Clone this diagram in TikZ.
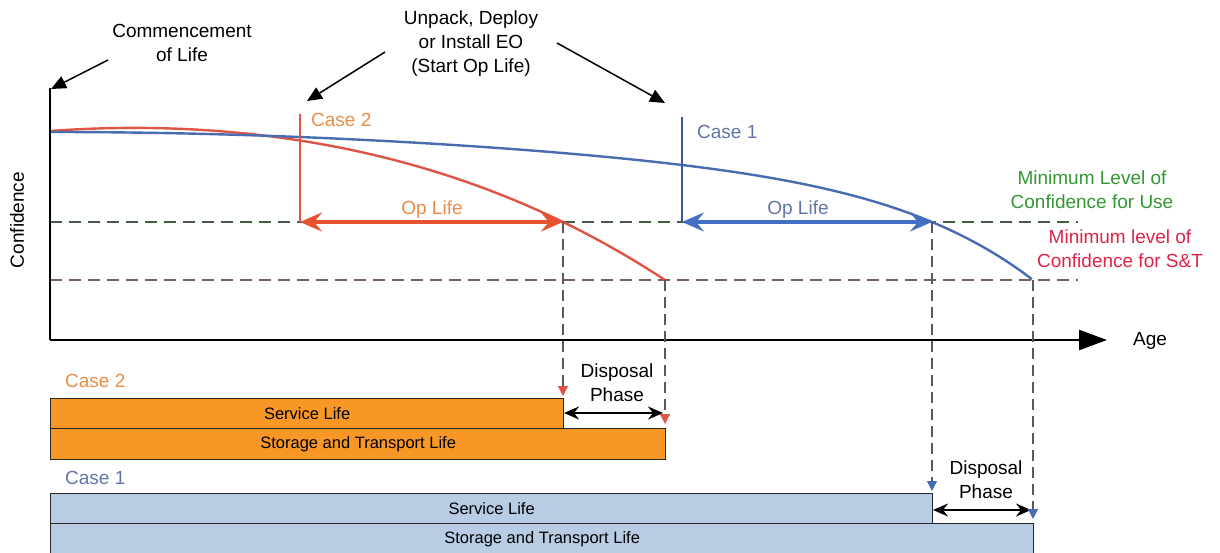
\documentclass[tikz,border=0pt]{standalone}
\usepackage{fontspec}
\setmainfont{Liberation Sans}
\usepackage{tikz}
\usetikzlibrary{arrows.meta,positioning}
\definecolor{casetwocol}{RGB}{235,140,70}
\definecolor{oplifered}{RGB}{232,82,48}
\definecolor{curvered}{RGB}{222,84,70}
\definecolor{barorange}{RGB}{248,150,38}
\definecolor{caseonecol}{RGB}{96,116,166}
\definecolor{oplifeblue}{RGB}{66,112,196}
\definecolor{curveblue}{RGB}{72,108,178}
\definecolor{barblue}{RGB}{184,204,228}
\definecolor{usecol}{RGB}{52,150,52}
\definecolor{stcol}{RGB}{222,36,70}
\definecolor{uselinecol}{RGB}{70,90,70}
\definecolor{stlinecol}{RGB}{120,95,95}
\tikzset{
  lbl/.style={font=\fontsize{19}{24}\selectfont,align=center,inner sep=0pt},
  barlbl/.style={font=\fontsize{16.5}{19}\selectfont},
  pointer/.style={-{Triangle[length=15pt,width=13pt]},line width=1.5pt},
  axis/.style={line width=2.8pt},
  oplife/.style={{Stealth[length=22pt,width=19pt,inset=8pt]}-{Stealth[length=22pt,width=19pt,inset=8pt]},line width=4pt},
  disposal/.style={{Stealth[length=15pt,width=13pt,inset=5pt]}-{Stealth[length=15pt,width=13pt,inset=5pt]},line width=2.4pt},
  minline/.style={line width=1.4pt,dash pattern=on 12pt off 7pt},
  dropline/.style={line width=1.2pt,black!65,dash pattern=on 11pt off 6pt},
  bar/.style={draw=black!85,line width=1.3pt,anchor=north west,inner sep=0pt,barlbl}
}
\begin{document}
\begin{tikzpicture}[x=1pt,y=-1pt]
  \useasboundingbox (0,0) rectangle (1220,553);
  % key points
  \coordinate (origin) at (50,340);
  \coordinate (ytop) at (50,88);
  \coordinate (xend) at (1107,340);
  \coordinate (usetwo) at (563,222);
  \coordinate (useone) at (932,222);
  \coordinate (sttwo) at (665,280);
  \coordinate (stone) at (1033,280);
  \coordinate (starttwo) at (300,222);
  \coordinate (startone) at (682,222);

  % minimum levels
  \draw[minline,uselinecol] (50,222) -- (1078,222);
  \draw[minline,stlinecol] (50,280) -- (1078,280);

  % confidence curves
  \draw[curvered,line width=2.4pt] plot[domain=0:0.615,samples=70]
    ({50+1000*\x},{131-73.5*\x+433.3*\x^2+212*\x^4});
  \draw[curveblue,line width=2.4pt] plot[domain=0:0.983,samples=90]
    ({50+1000*\x},{132+81.25*\x^2-11.2*\x^4+91.7*\x^8});

  % axes
  \draw[axis] (ytop) -- (origin);
  \draw[axis,-{Triangle[length=28pt,width=20pt]}] (origin) -- (xend);
  \node[lbl] (age) at (1150,341) {Age};
  \node[lbl,rotate=90] (conf) at (17,220) {Confidence};

  % start of op life
  \coordinate (casetwotop) at (300,114);
  \coordinate (caseonetop) at (682,117);
  \draw[curvered,line width=2pt] (casetwotop) -- (starttwo);
  \draw[oplifeblue!80!black,line width=2pt] (caseonetop) -- (startone);
  \node[lbl,text=casetwocol,anchor=west] (casetwo) at (311,120) {Case 2};
  \node[lbl,text=caseonecol,anchor=west] (caseone) at (697,132) {Case 1};
  \draw[oplife,oplifered] (starttwo) -- (usetwo);
  \draw[oplife,oplifeblue] (startone) -- (useone);
  \node[lbl,text=casetwocol] (optwo) at (432,210) {Op Life};
  \node[lbl,text=caseonecol] (opone) at (798,210) {Op Life};

  % level labels
  \node[lbl,text=usecol] (uselbl) at (1092,190) {Minimum Level of\\Confidence for Use};
  \node[lbl,text=stcol] (stlbl) at (1120,249) {Minimum level of\\Confidence for S\&T};

  % pointers
  \node[lbl] (commence) at (182,43) {Commencement\\of Life};
  \node[lbl] (unpack) at (471,44) {Unpack, Deploy\\or Install EO\\(Start Op Life)};
  \coordinate (ca) at (108,60);
  \coordinate (cb) at (51,89);
  \coordinate (ua) at (385,52);
  \coordinate (ub) at (307,101);
  \coordinate (uc) at (557,43);
  \coordinate (ud) at (665,103);
  \draw[pointer] (ca) -- (cb);
  \draw[pointer] (ua) -- (ub);
  \draw[pointer] (uc) -- (ud);

  % case 2 bars
  \node[lbl,text=casetwocol,anchor=west] (bartwo) at (65,381) {Case 2};
  \node[bar,fill=barorange,minimum width=513pt,minimum height=30pt] (svctwo) at (50,398) {Service Life};
  \node[bar,fill=barorange,minimum width=615pt,minimum height=31pt] (stortwo) at (50,428) {Storage and Transport Life};
  \node[lbl] (disptwo) at (617,383) {Disposal\\Phase};
  \coordinate (dt1) at (564,413);
  \coordinate (dt2) at (663,413);
  \draw[disposal] (dt1) -- (dt2);
  \draw[dropline,-{Triangle[length=10pt,width=10pt,color=curvered]}] (usetwo) -- (563,396);
  \draw[dropline,-{Triangle[length=10pt,width=10pt,color=curvered]}] (sttwo) -- (665,424);

  % case 1 bars
  \node[lbl,text=caseonecol,anchor=west] (barone) at (65,478) {Case 1};
  \node[bar,fill=barblue,minimum width=882pt,minimum height=30pt] (svcone) at (50,493) {Service Life};
  \node[bar,fill=barblue,minimum width=983pt,minimum height=32pt] (storone) at (50,523) {Storage and Transport Life};
  \node[lbl] (dispone) at (986,480) {Disposal\\Phase};
  \coordinate (do1) at (933,510);
  \coordinate (do2) at (1031,510);
  \draw[disposal] (do1) -- (do2);
  \draw[dropline,-{Triangle[length=10pt,width=10pt,color=curveblue]}] (useone) -- (932,491);
  \draw[dropline,-{Triangle[length=10pt,width=10pt,color=curveblue]}] (stone) -- (1033,519);
\end{tikzpicture}
\end{document}
